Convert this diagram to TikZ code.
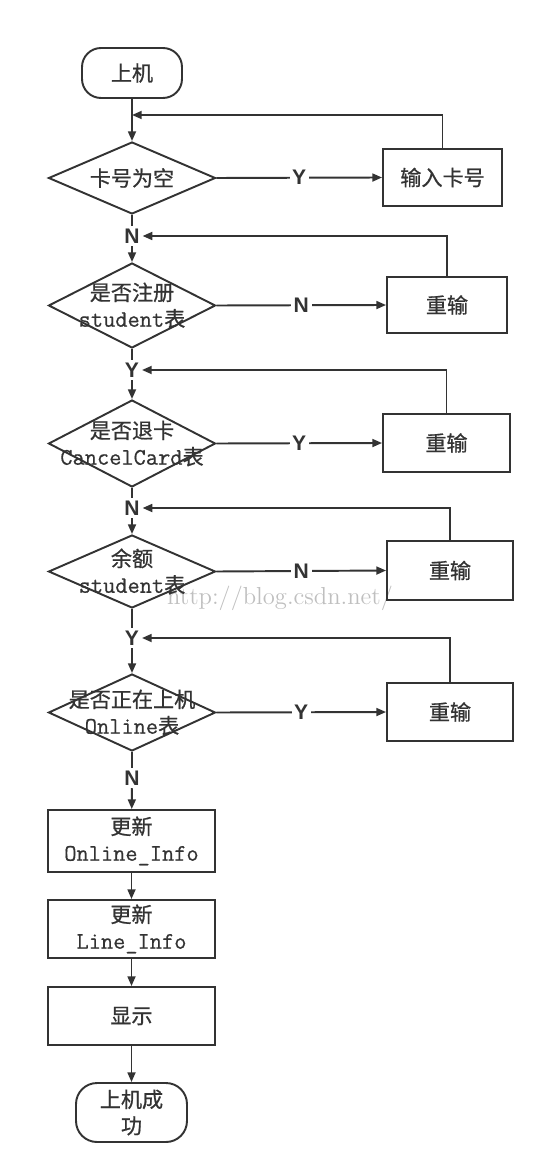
\documentclass[tikz,border=0pt]{standalone}
\usepackage{fontspec}
\usepackage{xcolor}
\newfontfamily\cjk[FakeBold=0.8]{Noto Sans CJK SC}
\newfontfamily\ynfont{Liberation Sans}
\newfontfamily\monof[FakeBold=0.6]{Latin Modern Mono}
\usetikzlibrary{shapes.geometric,arrows.meta}
\definecolor{ln}{HTML}{333333}
\newcommand{\en}[1]{{\fontsize{13.5}{15}\selectfont\monof #1}}

\begin{document}
\begin{tikzpicture}[x=0.02cm,y=-0.02cm,
    >={Triangle[length=5.5pt,width=4.5pt]},
    conn/.style={draw=ln,line width=1.1pt},
    base/.style={draw=ln,line width=1.1pt,text=ln,align=center,inner sep=0pt,
      font=\fontsize{12}{15}\cjk},
    term/.style={base,rounded corners=0.38cm},
    proc/.style={base,rectangle,minimum width=3.34cm},
    dec/.style={base,diamond,minimum width=3.34cm},
    dectext/.style={text=ln,align=center,inner sep=0pt,font=\fontsize{12}{15}\cjk},
    yn/.style={fill=white,text=ln,inner sep=1.5pt,font=\fontsize{12}{14}\ynfont\bfseries}]
    \useasboundingbox (0,0) rectangle (545,1175);

    \node[text=black!25,font=\fontsize{14}{14}\selectfont] (wm) at (280,598) {http://blog.csdn.net/};

    \node[term,minimum width=2cm,minimum height=1cm] (S) at (132,73) {上机};
    \coordinate (J0) at (132,115);
    \node[dec,minimum height=1.44cm,label={[dectext]center:卡号为空}] (D1) at (132,178) {};
    \node[yn] (N1) at (132,236) {N};
    \node[dec,minimum height=1.70cm,label={[dectext]center:是否注册\\\en{student}表}] (D2) at (132,305.5) {};
    \node[yn] (Y1) at (132,370) {Y};
    \node[dec,minimum height=1.74cm,label={[dectext]center:是否退卡\\\en{CancelCard}表}] (D3) at (132,443.5) {};
    \node[yn] (N2) at (132,508) {N};
    \node[dec,minimum height=1.46cm,label={[dectext]center:余额\\\en{student}表}] (D4) at (132,571.5) {};
    \node[yn] (Y2) at (132,638) {Y};
    \node[dec,minimum height=1.54cm,label={[dectext]center:是否正在上机\\\en{Online}表}] (D5) at (132,712.5) {};
    \node[yn] (N3) at (132,778) {N};
    \node[proc,minimum height=1.24cm] (P1) at (131.5,841) {更新\\\en{Online\_Info}};
    \node[proc,minimum height=1.16cm] (P2) at (131.5,929) {更新\\\en{Line\_Info}};
    \node[proc,minimum height=1.16cm] (P3) at (131.5,1016) {显示};
    \node[term,minimum width=2.22cm,minimum height=1.18cm,rounded corners=0.42cm] (E) at (131.5,1112.5) {上机成\\功};

    \node[proc,minimum width=2.38cm,minimum height=1.14cm] (B1) at (442.5,177.5) {输入卡号};
    \node[proc,minimum width=2.40cm,minimum height=1.12cm] (R1) at (447,305) {重输};
    \node[proc,minimum width=2.54cm,minimum height=1.16cm] (R2) at (446.5,443) {重输};
    \node[proc,minimum width=2.52cm,minimum height=1.18cm] (R3) at (450,570.5) {重输};
    \node[proc,minimum width=2.52cm,minimum height=1.16cm] (R4) at (450,712) {重输};

    \draw[conn] (S) -- (J0);
    \draw[conn,->] (J0) -- (D1);
    \draw[conn] (D1) -- (N1);
    \draw[conn,->] (N1) -- (D2);
    \draw[conn] (D2) -- (Y1);
    \draw[conn,->] (Y1) -- (D3);
    \draw[conn] (D3) -- (N2);
    \draw[conn,->] (N2) -- (D4);
    \draw[conn] (D4) -- (Y2);
    \draw[conn,->] (Y2) -- (D5);
    \draw[conn] (D5) -- (N3);
    \draw[conn,->] (N3) -- (P1);
    \draw[conn,->] (P1) -- (P2);
    \draw[conn,->] (P2) -- (P3);
    \draw[conn,->] (P3) -- (E);

    \draw[conn,->] (D1.east) to node[yn] (L1) {Y} (B1.west);
    \draw[conn,->] (D2.east) to node[yn] (L2) {N} (R1.west);
    \draw[conn,->] (D3.east) to node[yn] (L3) {Y} (R2.west);
    \draw[conn,->] (D4.east) to node[yn] (L4) {N} (R3.west);
    \draw[conn,->] (D5.east) to node[yn] (L5) {Y} (R4.west);

    \draw[conn,->] (B1.north) |- (J0);
    \draw[conn,->] (R1.north) |- (N1.east);
    \draw[conn,->] (R2.north) |- (Y1.east);
    \draw[conn,->] (R3.north) |- (N2.east);
    \draw[conn,->] (R4.north) |- (Y2.east);
  \end{tikzpicture}
\end{document}
